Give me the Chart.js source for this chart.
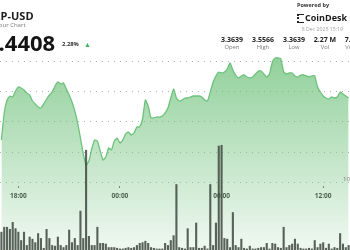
<!DOCTYPE html>
<html>
<head>
<meta charset="utf-8">
<script src="https://cdn.jsdelivr.net/npm/chart.js@4.4.1/dist/chart.umd.min.js"></script>
<style>
  html, body { margin: 0; padding: 0; width: 350px; height: 250px; overflow: hidden; background: #fff; }
  body { position: relative; font-family: 'Open Sans', sans-serif; }
  #wrap { position: absolute; left: 0; top: 0; width: 350px; height: 250px; }
  .t { position: absolute; white-space: nowrap; line-height: 1; }
  .stat { position: absolute; width: 34px; text-align: center; white-space: nowrap; line-height: 1; }
</style>
</head>
<body>
<div id="wrap"><canvas id="xrpChart"></canvas></div>

<!-- header -->
<div class="t" style="left:-14px;top:10px;font-size:11px;font-weight:700;color:#1b1b1b;">XRP-USD</div>
<div class="t" style="left:-14px;top:22px;font-size:6px;color:#777;">24 Hour Chart</div>
<div class="t" style="left:-14px;top:30.5px;font-size:22px;font-weight:700;color:#141414;">3.4408</div>
<div class="t" style="left:62px;top:42px;font-size:5.8px;font-weight:700;color:#333;">2.28%</div>
<div class="t" style="left:84px;top:41px;font-size:7px;color:#3cb55a;">▲</div>

<div class="t" style="left:297px;top:3px;font-size:5.5px;font-weight:700;color:#333;">Powered by</div>
<div style="position:absolute;left:297px;top:14px;width:5px;height:7px;border-left:2px dotted #222;border-top:1px solid #222;border-bottom:1px solid #222;"></div>
<div class="t" style="left:305px;top:13px;font-size:9px;font-weight:700;color:#1b1b1b;">CoinDesk Indices</div>
<div class="t" style="right:7px;top:26.7px;font-size:5.2px;color:#a0a0a0;">8 Dec 2025 15:19</div>

<div class="stat" style="left:215px;top:35.5px;font-size:7px;font-weight:700;color:#222;">3.3639</div>
<div class="stat" style="left:246px;top:35.5px;font-size:7px;font-weight:700;color:#222;">3.5566</div>
<div class="stat" style="left:277px;top:35.5px;font-size:7px;font-weight:700;color:#222;">3.3639</div>
<div class="stat" style="left:308px;top:35.5px;font-size:7px;font-weight:700;color:#222;">2.27 M</div>
<div class="stat" style="left:339px;top:35.5px;font-size:7px;font-weight:700;color:#222;">7.83 M</div>
<div class="stat" style="left:215px;top:45.2px;font-size:5.8px;color:#777;">Open</div>
<div class="stat" style="left:246px;top:45.2px;font-size:5.8px;color:#777;">High</div>
<div class="stat" style="left:277px;top:45.2px;font-size:5.8px;color:#777;">Low</div>
<div class="stat" style="left:308px;top:45.2px;font-size:5.8px;color:#777;">Vol</div>
<div class="stat" style="left:339px;top:45.2px;font-size:5.8px;color:#777;">Vol USD</div>

<div class="t" style="left:343px;top:175.8px;font-size:6px;color:#777;">10M</div>

<script>
// 10-minute slots, first slot 17:00 (7 Dec)
const startMinutes = 17 * 60;
const stepMinutes = 10;

// XRP-USD price per slot
const prices = [
  3.4200, 3.4650, 3.4867, 3.4933, 3.4917, 3.5017, 3.5083, 3.5067, 3.5033, 3.4983,
  3.4950, 3.4850, 3.4800, 3.4750, 3.4733, 3.4800, 3.4883, 3.4950, 3.5000, 3.5100,
  3.5167, 3.5133, 3.5150, 3.5050, 3.4950, 3.4833, 3.4683, 3.4483, 3.4233, 3.3967,
  3.3783, 3.3850, 3.4050, 3.4200, 3.4183, 3.4017, 3.3867, 3.3917, 3.4067, 3.4033,
  3.4183, 3.4233, 3.4150, 3.4200, 3.4300, 3.4333, 3.4283, 3.4317, 3.4417, 3.4417,
  3.4550, 3.4867, 3.4767, 3.4567, 3.4567, 3.4583, 3.4583, 3.4600, 3.4650, 3.4733,
  3.4900, 3.5050, 3.4900, 3.4850, 3.4867, 3.4900, 3.4900, 3.4917, 3.4933, 3.4933,
  3.4933, 3.4917, 3.4867, 3.4850, 3.5000, 3.5167, 3.5267, 3.5333, 3.5317, 3.5333,
  3.5383, 3.5483, 3.5367, 3.5283, 3.5233, 3.5267, 3.5283, 3.5250, 3.5233, 3.5250,
  3.5300, 3.5350, 3.5350, 3.5300, 3.5250, 3.5300, 3.5500, 3.5567, 3.5567, 3.5550,
  3.5333, 3.5300, 3.5317, 3.5317, 3.5267, 3.5250, 3.5283, 3.5283, 3.5267, 3.5250,
  3.5267, 3.5267, 3.5083, 3.5000, 3.4933, 3.4900, 3.4883, 3.4917, 3.4900, 3.4917,
  3.5000, 3.4967, 3.4933, 3.4900
];

// volume per slot (millions)
const volumes = [
  2.6,
  3.3, 3.3, 3.0, 4.0, 3.1, 2.6, 1.4, 2.6, 0.7, 1.9,
  1.6, 1.1, 2.4, 1.7, 0.3, 3.0, 1.7, 0.7, 0.6, 1.9,
  0.7, 0.4, 0.7, 2.9, 1.1, 1.7, 0.7, 5.6, 1.7, 14.3,
  2.0, 0.7, 0.7, 3.3, 1.0, 1.0, 0.9, 0.4, 0.4, 0.4,
  0.3, 0.2, 0.2, 0.3, 0.4, 0.3, 0.4, 0.7, 1.0, 1.1,
  1.3, 1.0, 0.4, 0.3, 0.2, 0.2, 0.2, 1.0, 0.7, 1.4,
  2.1, 9.4, 0.4, 0.3, 0.2, 3.1, 0.4, 0.4, 3.9, 0.3,
  0.3, 0.6, 0.2, 9.4, 0.7, 3.9, 14.9, 15.0, 1.7, 1.6,
  0.4, 5.4, 0.7, 0.4, 1.6, 0.3, 0.2, 0.6, 0.2, 0.2,
  0.3, 0.4, 0.4, 1.0, 0.2, 1.0, 0.9, 0.4, 0.3, 3.3,
  0.4, 0.7, 0.9, 1.6, 0.9, 0.3, 0.2, 0.2, 0.3, 0.2,
  1.4, 0.4, 0.9, 1.1, 0.3, 0.9, 0.2, 0.4, 0.3, 2.4,
  0.9, 0.4, 0.7
];

const tickLabels = ['18:00', '00:00', '06:00', '12:00'];
const priceGrid = [3.35, 3.40, 3.45, 3.50, 3.55];

// build the hh:mm category labels
const times = prices.map((p, i) => {
  const m = (startMinutes + i * stepMinutes) % 1440;
  return String(Math.floor(m / 60)).padStart(2, '0') + ':' + String(m % 60).padStart(2, '0');
});

const ctx = document.getElementById('xrpChart').getContext('2d');
const xrpChart = new Chart(ctx, {
  data: {
    labels: times,
    datasets: [
      {
        type: 'bar',
        label: 'Volume',
        data: volumes,
        yAxisID: 'y1',
        backgroundColor: 'rgba(62,72,64,0.85)',
        barPercentage: 0.75,
        categoryPercentage: 1.0,
        order: 0
      },
      {
        type: 'line',
        label: 'XRP-USD',
        data: prices,
        yAxisID: 'y',
        borderColor: '#6cc27b',
        borderWidth: 1.3,
        pointRadius: 0,
        tension: 0.15,
        fill: 'start',
        backgroundColor: (c) => {
          const area = c.chart.chartArea;
          if (!area) return 'rgba(108,192,120,0.4)';
          const g = c.chart.ctx.createLinearGradient(0, 55, 0, area.bottom);
          g.addColorStop(0, 'rgba(108,192,120,0.75)');
          g.addColorStop(1, 'rgba(108,192,120,0.1)');
          return g;
        },
        order: 1
      }
    ]
  },
  options: {
    responsive: true,
    maintainAspectRatio: false,
    animation: false,
    layout: { padding: 0 },
    plugins: {
      legend: { display: false },
      tooltip: { enabled: false }
    },
    scales: {
      x: {
        type: 'category',
        position: { y: 3.343 },
        offset: true,
        grid: { drawOnChartArea: false, drawTicks: true, tickLength: 2, color: '#777', offset: false },
        border: { display: false },
        ticks: {
          autoSkip: false,
          maxRotation: 0,
          padding: 4,
          color: '#3a3a3a',
          font: { family: 'Open Sans', size: 6.5, weight: 'bold' },
          callback: function (v) {
            const l = this.getLabelForValue(v);
            return tickLabels.includes(l) ? l : null;
          }
        }
      },
      y: {
        min: 3.2367,
        max: 3.6533,
        ticks: { display: false },
        grid: { color: '#b0b0b0', drawTicks: false },
        border: { display: false, dash: [1, 5] },
        afterBuildTicks: (s) => { s.ticks = priceGrid.map(v => ({ value: v })); },
        afterFit: (s) => { s.width = 0; }
      },
      y1: {
        display: false,
        min: 0,
        max: 35.7
      }
    }
  }
});
</script>
</body>
</html>
